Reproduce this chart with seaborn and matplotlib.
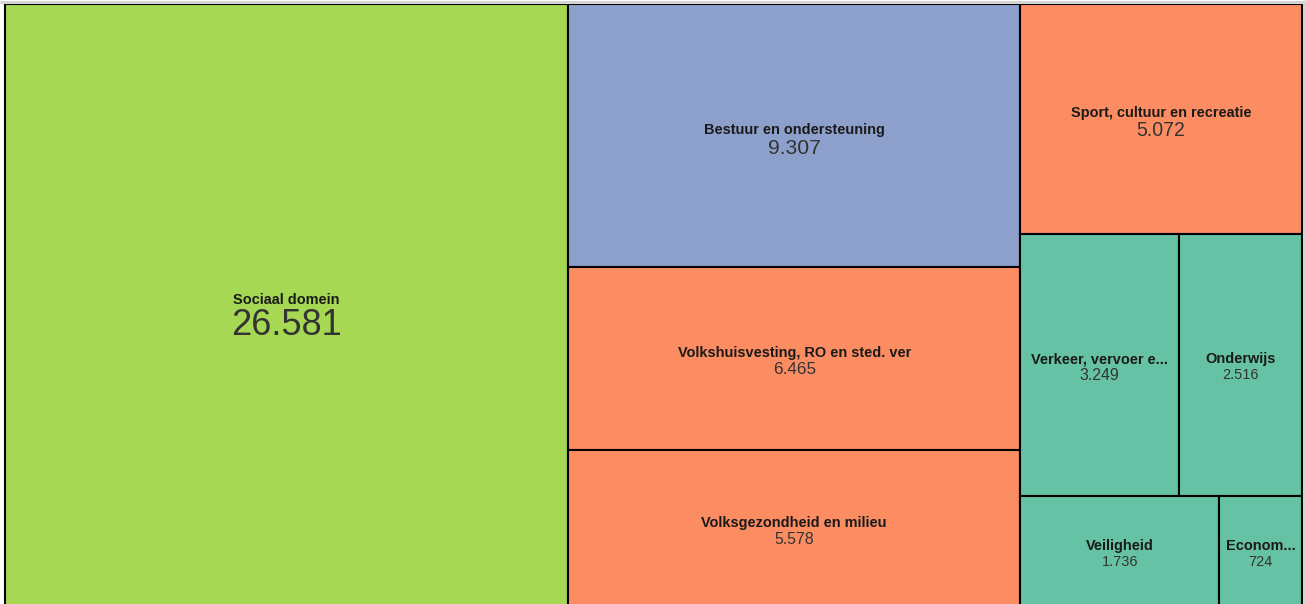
import math
import matplotlib
matplotlib.use("Agg")
import matplotlib.pyplot as plt
from matplotlib.patches import Rectangle
import seaborn as sns

# ---- data ----
categories = [
    "Sociaal domein",
    "Bestuur en ondersteuning",
    "Volkshuisvesting, RO en sted. ver",
    "Volksgezondheid en milieu",
    "Sport, cultuur en recreatie",
    "Verkeer, vervoer e...",
    "Onderwijs",
    "Veiligheid",
    "Econom...",
]
values = [26581, 9307, 6465, 5578, 5072, 3249, 2516, 1736, 724]
value_labels = ["26.581", "9.307", "6.465", "5.578", "5.072", "3.249", "2.516", "1.736", "724"]
color_group = [4, 2, 1, 1, 1, 0, 0, 0, 0]  # index into seaborn Set2 palette

sns.set_theme(style="white")
plt.rcParams["font.family"] = ["Liberation Sans", "DejaVu Sans"]
palette = sns.color_palette("Set2", 8)

W, H, DPI = 1306, 604, 100
fig = plt.figure(figsize=(W / DPI, H / DPI), dpi=DPI)
fig.patch.set_facecolor("white")
ax = fig.add_axes([0, 0, 1, 1])
ax.set_xlim(0, W)
ax.set_ylim(H, 0)
ax.axis("off")


# ---- squarified treemap layout (d3 style) ----
def squarify(vals, x0, y0, x1, y1, ratio=1.65):
    rects = [None] * len(vals)
    n = len(vals)
    total = float(sum(vals))
    i0 = i1 = 0
    while i0 < n:
        dx, dy = x1 - x0, y1 - y0
        s = vals[i1]; i1 += 1
        mn = mx = s
        alpha = max(dy / dx, dx / dy) / (total * ratio)
        beta = s * s * alpha
        min_ratio = max(mx / beta, beta / mn)
        while i1 < n:
            v = vals[i1]
            s += v
            mn = min(mn, v); mx = max(mx, v)
            beta = s * s * alpha
            new_ratio = max(mx / beta, beta / mn)
            if new_ratio > min_ratio:
                s -= v
                break
            min_ratio = new_ratio
            i1 += 1
        row = list(range(i0, i1))
        if dx < dy:  # row across the top
            ny = y0 + dy * s / total if total else y1
            cx = x0
            for k in row:
                w = (x1 - x0) * vals[k] / s
                rects[k] = (cx, y0, cx + w, ny)
                cx += w
            y0 = ny
        else:  # column at the left
            nx = x0 + dx * s / total if total else x1
            cy = y0
            for k in row:
                h = (y1 - y0) * vals[k] / s
                rects[k] = (x0, cy, nx, cy + h)
                cy += h
            x0 = nx
        total -= s
        i0 = i1
    return rects


rects = squarify(values, 5, 4, 1302, 608)

px = 72.0 / DPI  # pixels -> points
name_px = 15.0
for name, lab, cg, (rx0, ry0, rx1, ry1) in zip(categories, value_labels, color_group, rects):
    ax.add_patch(Rectangle((rx0, ry0), rx1 - rx0, ry1 - ry0,
                           facecolor=palette[cg], edgecolor="black", linewidth=1.5))
    cx = (rx0 + rx1) / 2
    cy = (ry0 + ry1) / 2
    mind = min(rx1 - rx0, ry1 - ry0)
    val_px = max(14.5, 8.0 + 0.05 * mind)
    base = cy - 2
    ax.text(cx, base, name, ha="center", va="baseline", fontsize=name_px * px * 0.97,
            fontweight="bold", color="#1a1a1a")
    ax.text(cx, base + 5 + 0.72 * val_px, lab, ha="center", va="baseline",
            fontsize=val_px * px, color="#333333")

# faint frame lines at top and right edge
ax.plot([0, W], [1.5, 1.5], color="#d4d4d4", linewidth=2.2, solid_capstyle="butt")
ax.plot([W - 2, W - 2], [0, H], color="#d4d4d4", linewidth=2.2, solid_capstyle="butt")

fig.savefig("out.png", dpi=DPI, facecolor="white")
